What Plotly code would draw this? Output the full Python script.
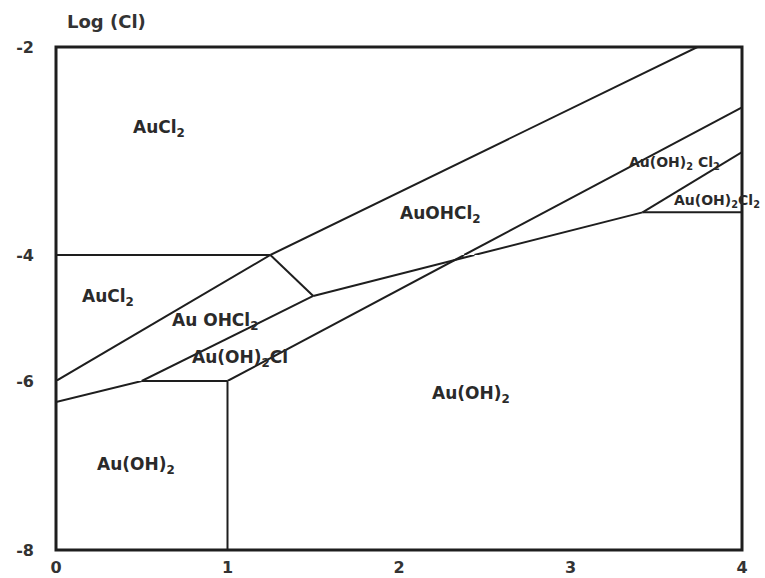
import plotly.graph_objects as go

# Phase boundaries: x values and Log(Cl) values along each line
top_x = [0.0, 1.25, 3.74]
top_y = [-6.0, -4.0, -2.0]

cl4_x = [0.0, 1.25]
cl4_y = [-4.0, -4.0]

link_x = [1.25, 1.5]
link_y = [-4.0, -4.65]

lower_x = [0.0, 0.5, 1.5, 2.44, 3.42, 4.0]
lower_y = [-6.25, -6.0, -4.65, -4.0, -3.59, -3.59]

step_x = [0.5, 1.0, 1.0]
step_y = [-6.0, -6.0, -8.0]

diag_x = [1.0, 2.38, 4.0]
diag_y = [-6.0, -4.0, -2.58]

right_x = [3.42, 4.0]
right_y = [-3.59, -3.01]

boundaries = [
    (top_x, top_y), (cl4_x, cl4_y), (link_x, link_y), (lower_x, lower_y),
    (step_x, step_y), (diag_x, diag_y), (right_x, right_y),
]

# Field labels: text, x, Log(Cl), font size
label_text = ["AuCl<sub>2</sub>", "AuCl<sub>2</sub>", "Au OHCl<sub>2</sub>",
              "Au(OH)<sub>2</sub>Cl", "AuOHCl<sub>2</sub>", "Au(OH)<sub>2</sub>",
              "Au(OH)<sub>2</sub>", "Au(OH)<sub>2</sub> Cl<sub>2</sub>",
              "Au(OH)<sub>2</sub>Cl<sub>2</sub>"]
label_x = [0.437, 0.14, 0.665, 0.78, 1.994, 2.18, 0.227, 3.33, 3.59]
label_y = [-2.78, -4.68, -5.055, -5.65, -3.61, -6.16, -7.0, -3.12, -3.48]
label_size = [17, 17, 17, 17, 17, 17, 17, 14, 14]

# Tick labels
x_ticks = [0, 1, 2, 3, 4]
y_ticks = [-2, -4, -6, -8]

# The vertical scale of the diagram is drawn unevenly: each two-unit band
# of Log(Cl) gets its own linear axis stacked on top of the others.
bands = [(-8.0, -6.0), (-6.0, -4.0), (-4.0, -2.0)]
band_px = [169, 126, 208]
total = sum(band_px)
domains = []
acc = 0.0
for h in band_px:
    domains.append([acc / total, (acc + h) / total])
    acc += h
axis_names = ["y", "y2", "y3"]
layout_names = ["yaxis", "yaxis2", "yaxis3"]


def band_of(y):
    for i, (lo, hi) in enumerate(bands):
        if lo <= y <= hi:
            return i
    return 0


INK = "#1e1e1e"
FONT = "DejaVu Sans"

seg_x = [[] for _ in bands]
seg_y = [[] for _ in bands]
for xs, ys in boundaries:
    for i in range(len(xs) - 1):
        x0, x1, y0, y1 = xs[i], xs[i + 1], ys[i], ys[i + 1]
        targets = {band_of((y0 + y1) / 2)}
        # a level segment lying on a band edge is drawn in both neighbouring bands
        if y0 == y1:
            edge = {b for b, (lo, hi) in enumerate(bands) if y0 in (lo, hi)}
            if edge:
                targets = edge
        for b in targets:
            seg_x[b] += [x0, x1, None]
            seg_y[b] += [y0, y1, None]

fig = go.Figure()
for b in range(len(bands)):
    fig.add_trace(go.Scatter(
        x=seg_x[b], y=seg_y[b], mode="lines", yaxis=axis_names[b],
        line=dict(color=INK, width=2), hoverinfo="skip", showlegend=False,
    ))

for b, (lo, hi) in enumerate(bands):
    ticks = [t for t in y_ticks if lo < t <= hi] if b else [t for t in y_ticks if lo <= t <= hi]
    fig.layout[layout_names[b]] = dict(
        domain=domains[b], range=[lo, hi], anchor="x", automargin=False,
        tickvals=ticks, ticktext=[str(t) for t in ticks],
        showgrid=False, zeroline=False, showline=False, ticks="",
        ticklabelstandoff=21,
        tickfont=dict(family=FONT, size=16, color="#333333", weight="bold"),
    )

fig.update_xaxes(
    range=[0, 4], tickvals=x_ticks, ticktext=[str(t) for t in x_ticks],
    showgrid=False, zeroline=False, showline=False, ticks="", automargin=False,
    ticklabelstandoff=6,
    tickfont=dict(family=FONT, size=16, color="#333333", weight="bold"),
)

for t, x, y, s in zip(label_text, label_x, label_y, label_size):
    fig.add_annotation(
        x=x, y=y, xref="x", yref=axis_names[band_of(y)], text=t,
        showarrow=False, xanchor="left", yanchor="middle",
        font=dict(family=FONT, size=s, color="#2a2a2a", weight="bold"),
    )

fig.add_annotation(
    x=0.013, y=1.05, xref="paper", yref="paper", text="Log (Cl)",
    showarrow=False, xanchor="left", yanchor="middle",
    font=dict(family=FONT, size=18, color="#333333", weight="bold"),
)

# Heavy frame round the diagram
fig.add_shape(type="rect", xref="paper", yref="paper", x0=0, x1=1, y0=0, y1=1,
              line=dict(color=INK, width=3))

fig.update_layout(
    width=765, height=578,
    margin=dict(l=56, r=23, t=47, b=28, autoexpand=False),
    paper_bgcolor="white", plot_bgcolor="white",
)

fig.write_html("out.html")
